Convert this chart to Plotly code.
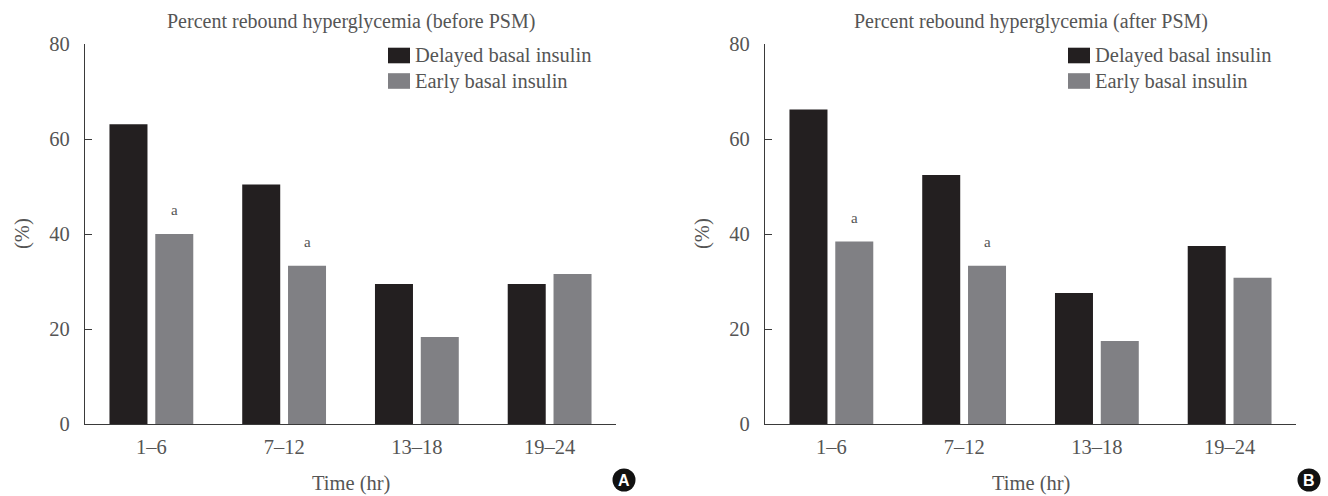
import plotly.graph_objects as go

# Rebound hyperglycemia by time window after starting insulin infusion
time_windows = ["1–6", "7–12", "13–18", "19–24"]

before_delayed = [63.1, 50.4, 29.5, 29.5]
before_early = [40.0, 33.3, 18.3, 31.6]

after_delayed = [66.2, 52.4, 27.6, 37.5]
after_early = [38.4, 33.3, 17.5, 30.8]

# significance markers above the early-basal bars
before_marks = ["a", "a", "", ""]
after_marks = ["a", "a", "", ""]

series_names = ["Delayed basal insulin", "Early basal insulin"]
panel_titles = ["Percent rebound hyperglycemia (before PSM)",
                "Percent rebound hyperglycemia (after PSM)"]
panel_letters = ["A", "B"]

W, H = 1328, 496
DARK = "#231f20"
GREY = "#808084"
TEXT = "#555555"
AXIS = "#3a3a3a"
SERIF = "Liberation Serif, Times New Roman, serif"
FS = 20.5


def px(x):
    return x / W


def py(y):
    return 1 - y / H


def label(x, y, text, **kw):
    font = kw.pop("font", dict(family=SERIF, size=FS, color=TEXT))
    fig.add_annotation(x=px(x), y=py(y), xref="paper", yref="paper",
                       text=text, showarrow=False, font=font,
                       xanchor=kw.pop("xanchor", "center"),
                       yanchor=kw.pop("yanchor", "middle"), **kw)


fig = go.Figure()

panels = [
    dict(delayed=before_delayed, early=before_early, marks=before_marks,
         xa="x", ya="y", left=85, right=616, badge=624),
    dict(delayed=after_delayed, early=after_early, marks=after_marks,
         xa="x2", ya="y2", left=765, right=1296, badge=1309),
]

top_px, base_px = 44, 424
colors = [DARK, GREY]

for i, p in enumerate(panels):
    for name, vals, col in zip(series_names, [p["delayed"], p["early"]], colors):
        fig.add_trace(go.Bar(x=time_windows, y=vals, name=name,
                             marker=dict(color=col, line=dict(width=0)),
                             xaxis=p["xa"], yaxis=p["ya"], showlegend=False))

    # "a" markers, offset above the bar top
    for cat, val, mark in zip(time_windows, p["early"], p["marks"]):
        if mark:
            fig.add_annotation(x=cat, y=val, xref=p["xa"], yref=p["ya"],
                               text=mark, showarrow=False, xshift=23,
                               yshift=14, yanchor="bottom",
                               font=dict(family=SERIF, size=15, color=TEXT))

    cx = (p["left"] + p["right"]) / 2
    label(cx, 22, panel_titles[i],
          font=dict(family=SERIF, size=20, color=TEXT))
    label(cx, 483, "Time (hr)")
    label(p["left"] - 63, (top_px + base_px) / 2, "(%)", textangle=-90)

    # legend keys
    kx = p["left"] + 303
    for row, (name, col) in enumerate(zip(series_names, colors)):
        yc = 55.5 + 25.5 * row
        fig.add_shape(type="rect", xref="paper", yref="paper",
                      x0=px(kx), x1=px(kx + 22), y0=py(yc + 7.8),
                      y1=py(yc - 7.8), fillcolor=col, line=dict(width=0))
        label(kx + 25, yc, name, xanchor="left")

    # panel letter badge
    bx, by, r = p["badge"], 480, 11.5
    fig.add_shape(type="circle", xref="paper", yref="paper",
                  x0=px(bx - r), x1=px(bx + r), y0=py(by + r), y1=py(by - r),
                  fillcolor="#111111", line=dict(width=0))
    label(bx, by, "<b>%s</b>" % panel_letters[i],
          font=dict(family="Liberation Sans, Arial, sans-serif",
                    size=16, color="white"))

axis_common_x = dict(type="category", showline=True, linecolor=AXIS,
                     linewidth=1.3, ticks="", showgrid=False, zeroline=False,
                     ticklabelstandoff=4,
                     tickfont=dict(family=SERIF, size=FS, color=TEXT))
axis_common_y = dict(range=[0, 80], tickvals=[0, 20, 40, 60, 80],
                     showline=True, linecolor=AXIS, linewidth=1.3,
                     ticks="inside", ticklen=7, tickcolor=AXIS, tickwidth=1.3,
                     showgrid=False, zeroline=False, ticklabelstandoff=10,
                     tickfont=dict(family=SERIF, size=FS, color=TEXT))

ydom = [py(base_px), py(top_px)]

fig.update_layout(
    width=W, height=H,
    margin=dict(l=0, r=0, t=0, b=0, autoexpand=False),
    paper_bgcolor="white", plot_bgcolor="white",
    barmode="group", bargap=0.31, bargroupgap=0.17,
    showlegend=False,
    xaxis=dict(domain=[px(85), px(616)], anchor="y", **axis_common_x),
    yaxis=dict(domain=ydom, anchor="x", **axis_common_y),
    xaxis2=dict(domain=[px(765), px(1296)], anchor="y2", **axis_common_x),
    yaxis2=dict(domain=ydom, anchor="x2", **axis_common_y),
)

fig.write_html("out.html")
